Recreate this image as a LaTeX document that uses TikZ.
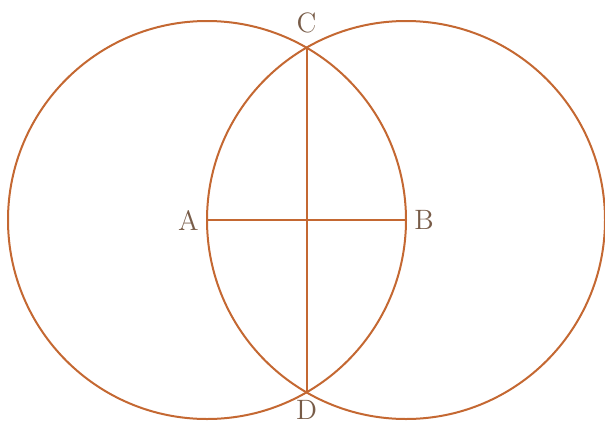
\documentclass[tikz,border=0pt]{standalone}
\usepackage{tikz}
\usetikzlibrary{calc,positioning}
\definecolor{arcline}{RGB}{196,104,50}
\definecolor{ptlabel}{RGB}{120,92,72}

\begin{document}
\begin{tikzpicture}[x=0.5pt,y=0.5pt,
    arcs/.style={draw=arcline,line width=1pt},
    lbl/.style={text=ptlabel,inner sep=0pt,font=\fontsize{14}{16}\selectfont}]
  \useasboundingbox (0,0) rectangle (605,425);

  % centres A, B and the two crossing points C, D
  \coordinate (A) at (207,205);
  \coordinate (B) at (406,205);
  \coordinate (C) at ($(A)!1!60:(B)$);
  \coordinate (D) at ($(A)!1!-60:(B)$);

  % circles through each other's centre
  \draw[arcs] (A) circle [radius=199];
  \draw[arcs] (B) circle [radius=199];

  % segments
  \draw[arcs] (A) -- (B);
  \draw[arcs] (C) -- (D);

  % labels
  \node[lbl,left=4pt of A] (la) {A};
  \node[lbl,right=4pt of B] (lb) {B};
  \node[lbl,above=7pt of C] (lc) {C};
  \node[lbl,below=4pt of D] (ld) {D};

\end{tikzpicture}
\end{document}
